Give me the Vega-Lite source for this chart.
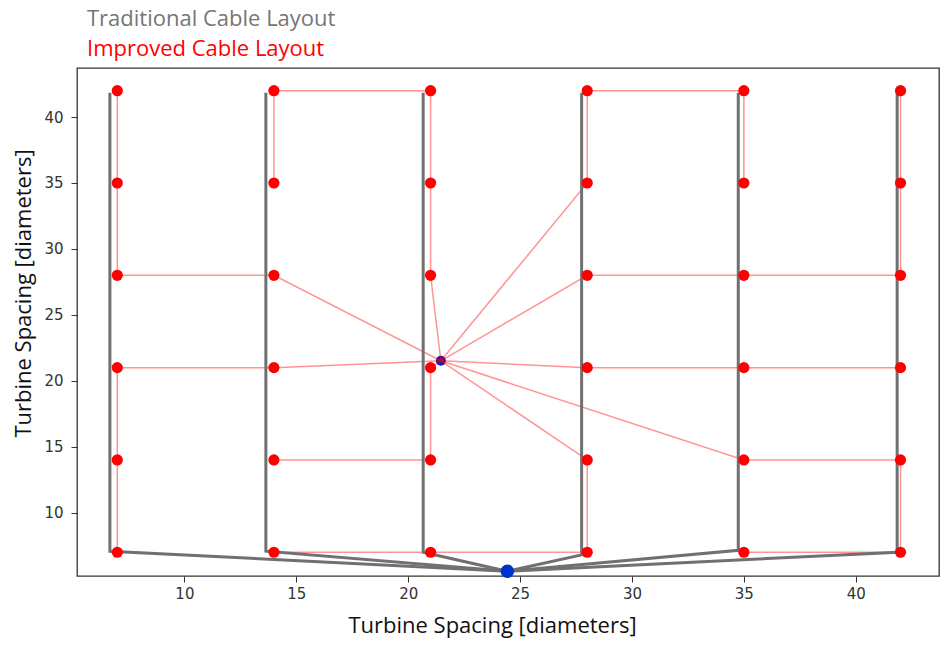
{
  "$schema": "https://vega.github.io/schema/vega-lite/v6.json",
  "autosize": {"type": "none"},
  "padding": {"left": 77, "top": 68, "right": 6, "bottom": 70},
  "width": 862,
  "height": 508,
  "background": "white",
  "title": {
    "text": "Traditional Cable Layout",
    "subtitle": "Improved Cable Layout",
    "anchor": "start",
    "frame": "group",
    "dx": 10,
    "offset": 7,
    "font": "Open Sans",
    "fontSize": 22,
    "fontWeight": "normal",
    "color": "#767676",
    "subtitleFont": "Open Sans",
    "subtitleFontSize": 22,
    "subtitleColor": "#ff0000",
    "subtitlePadding": 8
  },
  "config": {
    "view": {"stroke": "#333333", "strokeWidth": 1.3},
    "axis": {
      "grid": false,
      "domain": false,
      "tickColor": "#333333",
      "tickSize": 6,
      "labelFont": "DejaVu Sans",
      "labelFontSize": 15,
      "labelColor": "#333333",
      "titleFont": "Open Sans",
      "titleFontSize": 22,
      "titleFontWeight": "normal",
      "titleColor": "#111111"
    }
  },
  "datasets": {
    "turbines": [
      {"x": 7, "y": 7}, {"x": 7, "y": 14}, {"x": 7, "y": 21}, {"x": 7, "y": 28}, {"x": 7, "y": 35}, {"x": 7, "y": 42},
      {"x": 14, "y": 7}, {"x": 14, "y": 14}, {"x": 14, "y": 21}, {"x": 14, "y": 28}, {"x": 14, "y": 35}, {"x": 14, "y": 42},
      {"x": 21, "y": 7}, {"x": 21, "y": 14}, {"x": 21, "y": 21}, {"x": 21, "y": 28}, {"x": 21, "y": 35}, {"x": 21, "y": 42},
      {"x": 28, "y": 7}, {"x": 28, "y": 14}, {"x": 28, "y": 21}, {"x": 28, "y": 28}, {"x": 28, "y": 35}, {"x": 28, "y": 42},
      {"x": 35, "y": 7}, {"x": 35, "y": 14}, {"x": 35, "y": 21}, {"x": 35, "y": 28}, {"x": 35, "y": 35}, {"x": 35, "y": 42},
      {"x": 42, "y": 7}, {"x": 42, "y": 14}, {"x": 42, "y": 21}, {"x": 42, "y": 28}, {"x": 42, "y": 35}, {"x": 42, "y": 42}
    ],
    "substations": [
      {"kind": "improved", "x": 21.46, "y": 21.52},
      {"kind": "traditional", "x": 24.43, "y": 5.56}
    ],
    "improved": [
      {"string": "S1", "seq": 1, "x": 7, "y": 42}, {"string": "S1", "seq": 2, "x": 7, "y": 35}, {"string": "S1", "seq": 3, "x": 7, "y": 28}, {"string": "S1", "seq": 4, "x": 14, "y": 28}, {"string": "S1", "seq": 5, "x": 21.46, "y": 21.52},
      {"string": "S2", "seq": 1, "x": 7, "y": 7}, {"string": "S2", "seq": 2, "x": 7, "y": 14}, {"string": "S2", "seq": 3, "x": 7, "y": 21}, {"string": "S2", "seq": 4, "x": 14, "y": 21}, {"string": "S2", "seq": 5, "x": 21.46, "y": 21.52},
      {"string": "S3", "seq": 1, "x": 14, "y": 35}, {"string": "S3", "seq": 2, "x": 14, "y": 42}, {"string": "S3", "seq": 3, "x": 21, "y": 42}, {"string": "S3", "seq": 4, "x": 21, "y": 35}, {"string": "S3", "seq": 5, "x": 21, "y": 28}, {"string": "S3", "seq": 6, "x": 21.46, "y": 21.52},
      {"string": "S4", "seq": 1, "x": 14, "y": 14}, {"string": "S4", "seq": 2, "x": 21, "y": 14}, {"string": "S4", "seq": 3, "x": 21, "y": 21}, {"string": "S4", "seq": 4, "x": 21.46, "y": 21.52},
      {"string": "S5", "seq": 1, "x": 14, "y": 7}, {"string": "S5", "seq": 2, "x": 21, "y": 7}, {"string": "S5", "seq": 3, "x": 28, "y": 7}, {"string": "S5", "seq": 4, "x": 28, "y": 14}, {"string": "S5", "seq": 5, "x": 21.46, "y": 21.52},
      {"string": "S6", "seq": 1, "x": 35, "y": 35}, {"string": "S6", "seq": 2, "x": 35, "y": 42}, {"string": "S6", "seq": 3, "x": 28, "y": 42}, {"string": "S6", "seq": 4, "x": 28, "y": 35}, {"string": "S6", "seq": 5, "x": 21.46, "y": 21.52},
      {"string": "S7", "seq": 1, "x": 42, "y": 42}, {"string": "S7", "seq": 2, "x": 42, "y": 35}, {"string": "S7", "seq": 3, "x": 42, "y": 28}, {"string": "S7", "seq": 4, "x": 35, "y": 28}, {"string": "S7", "seq": 5, "x": 28, "y": 28}, {"string": "S7", "seq": 6, "x": 21.46, "y": 21.52},
      {"string": "S8", "seq": 1, "x": 42, "y": 21}, {"string": "S8", "seq": 2, "x": 35, "y": 21}, {"string": "S8", "seq": 3, "x": 28, "y": 21}, {"string": "S8", "seq": 4, "x": 21.46, "y": 21.52},
      {"string": "S9", "seq": 1, "x": 35, "y": 7}, {"string": "S9", "seq": 2, "x": 42, "y": 7}, {"string": "S9", "seq": 3, "x": 42, "y": 14}, {"string": "S9", "seq": 4, "x": 35, "y": 14}, {"string": "S9", "seq": 5, "x": 21.46, "y": 21.52}
    ],
    "traditional": [
      {"column": "C1", "seq": 1, "x": 6.67, "y": 41.85}, {"column": "C1", "seq": 2, "x": 6.67, "y": 7.08}, {"column": "C1", "seq": 3, "x": 24.43, "y": 5.56},
      {"column": "C2", "seq": 1, "x": 13.64, "y": 41.85}, {"column": "C2", "seq": 2, "x": 13.64, "y": 7.08}, {"column": "C2", "seq": 3, "x": 24.43, "y": 5.56},
      {"column": "C3", "seq": 1, "x": 20.67, "y": 41.85}, {"column": "C3", "seq": 2, "x": 20.67, "y": 7.0}, {"column": "C3", "seq": 3, "x": 24.43, "y": 5.56},
      {"column": "C4", "seq": 1, "x": 27.75, "y": 41.85}, {"column": "C4", "seq": 2, "x": 27.75, "y": 6.8}, {"column": "C4", "seq": 3, "x": 24.43, "y": 5.56},
      {"column": "C5", "seq": 1, "x": 34.75, "y": 41.85}, {"column": "C5", "seq": 2, "x": 34.75, "y": 7.15}, {"column": "C5", "seq": 3, "x": 24.43, "y": 5.56},
      {"column": "C6", "seq": 1, "x": 41.85, "y": 41.85}, {"column": "C6", "seq": 2, "x": 41.85, "y": 7.0}, {"column": "C6", "seq": 3, "x": 24.43, "y": 5.56}
    ]
  },
  "encoding": {
    "x": {
      "field": "x", "type": "quantitative",
      "scale": {"domain": [5.2, 43.72], "nice": false, "zero": false},
      "axis": {
        "values": [10, 15, 20, 25, 30, 35, 40],
        "labelPadding": 4,
        "title": "Turbine Spacing [diameters]",
        "titleX": 415, "titleY": 56, "titleAlign": "center", "titleBaseline": "alphabetic"
      }
    },
    "y": {
      "field": "y", "type": "quantitative",
      "scale": {"domain": [5.2, 43.72], "nice": false, "zero": false},
      "axis": {
        "values": [10, 15, 20, 25, 30, 35, 40],
        "labelPadding": 8,
        "title": "Turbine Spacing [diameters]",
        "titleX": -47, "titleY": 225, "titleAlign": "center", "titleBaseline": "alphabetic", "titleAngle": -90
      }
    }
  },
  "layer": [
    {
      "data": {"name": "substations"},
      "transform": [{"filter": "datum.kind === 'improved'"}],
      "mark": {"type": "point", "filled": true, "shape": "circle", "size": 100, "color": "#1c1cb0", "opacity": 1}
    },
    {
      "data": {"name": "improved"},
      "mark": {"type": "line", "color": "#ff0000", "strokeWidth": 1.5, "opacity": 0.42},
      "encoding": {
        "detail": {"field": "string"},
        "order": {"field": "seq", "type": "quantitative"}
      }
    },
    {
      "data": {"name": "traditional"},
      "mark": {"type": "line", "color": "#707070", "strokeWidth": 3, "strokeJoin": "miter"},
      "encoding": {
        "detail": {"field": "column"},
        "order": {"field": "seq", "type": "quantitative"}
      }
    },
    {
      "data": {"name": "turbines"},
      "mark": {"type": "point", "filled": true, "shape": "circle", "size": 125, "color": "#ff0000", "opacity": 1}
    },
    {
      "data": {"name": "substations"},
      "transform": [{"filter": "datum.kind === 'traditional'"}],
      "mark": {"type": "point", "filled": true, "shape": "circle", "size": 180, "color": "#0033cc", "opacity": 1}
    }
  ]
}
